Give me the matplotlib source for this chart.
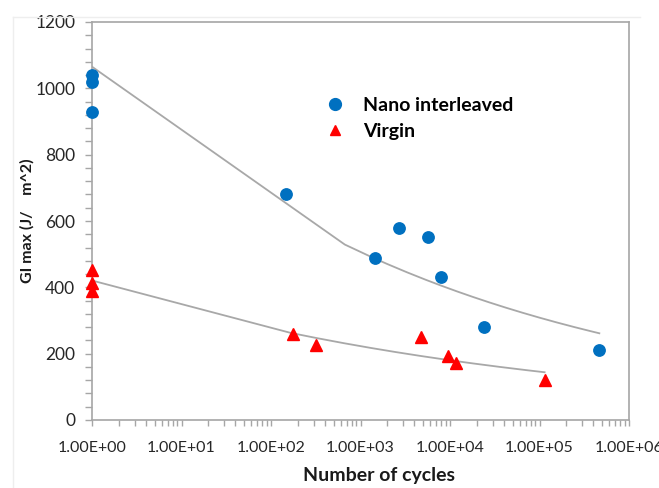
import numpy as np
import matplotlib
matplotlib.use("Agg")
import matplotlib.pyplot as plt
from matplotlib.ticker import FixedLocator, LogLocator, NullFormatter, FuncFormatter
from matplotlib.lines import Line2D

# ---- data ----
nano_cycles = [1, 1, 1, 147, 1470, 2700, 5700, 8000, 24000, 466000]
nano_gi = [1040, 1018, 928, 680, 488, 580, 553, 431, 280, 211]
virgin_cycles = [1, 1, 1, 175, 316, 4800, 9500, 11700, 114000]
virgin_gi = [452, 412, 388, 260, 225, 250, 194, 173, 121]

series_labels = ["Nano interleaved", "Virgin"]
x_label = "Number of cycles"
y_label = "GI max (J/    m^2)"
y_ticks = [0, 200, 400, 600, 800, 1000, 1200]
x_ticks = [1e0, 1e1, 1e2, 1e3, 1e4, 1e5, 1e6]

BLUE = "#0070C0"
RED = "#FF0000"
TREND = "#A8A8A8"
FRAME = "#A6A6A6"
FONT = ["Lato", "DejaVu Sans"]

plt.rcParams["font.family"] = FONT

fig = plt.figure(figsize=(6.59, 4.88), dpi=100)
ax = fig.add_axes([92 / 659, 1 - 420 / 488, (629 - 92) / 659, (420 - 22) / 488])


def power_trend(x, y, n=700):
    x = np.asarray(x, float)
    y = np.asarray(y, float)
    b, lna = np.polyfit(np.log(x), np.log(y), 1)
    xs = np.linspace(x.min(), x.max(), n)
    return xs, np.exp(lna) * xs ** b


tx, ty = power_trend(nano_cycles, nano_gi)
ax.plot(tx, ty, color=TREND, lw=1.3, zorder=2)
tx, ty = power_trend(virgin_cycles, virgin_gi)
ax.plot(tx, ty, color=TREND, lw=1.3, zorder=2)

ax.plot(nano_cycles, nano_gi, linestyle="none", marker="o", ms=8.2,
        color=BLUE, mec=BLUE, zorder=3, clip_on=False)
ax.plot(virgin_cycles, virgin_gi, linestyle="none", marker="^", ms=8.8,
        color=RED, mec=RED, zorder=3, clip_on=False)

ax.set_xscale("log")
ax.set_xlim(1, 1e6)
ax.set_ylim(0, 1200)

ax.xaxis.set_major_locator(FixedLocator(x_ticks))
ax.xaxis.set_major_formatter(FuncFormatter(lambda v, p: "%.2fE+%02d" % (1.0, round(np.log10(v)))))
ax.xaxis.set_minor_locator(LogLocator(base=10, subs=np.arange(2, 10), numticks=20))
ax.xaxis.set_minor_formatter(NullFormatter())
ax.yaxis.set_major_locator(FixedLocator(y_ticks))
ax.yaxis.set_minor_locator(FixedLocator(np.arange(0, 1201, 40)))

ax.tick_params(axis="both", which="both", color=FRAME, direction="out")
ax.tick_params(axis="y", which="major", length=5, width=1, labelsize=12.5, pad=7, labelcolor="#262626")
ax.tick_params(axis="y", which="minor", length=5, width=1)
ax.tick_params(axis="x", which="major", length=4, width=1, labelsize=11.5, pad=11, labelcolor="#262626")
ax.tick_params(axis="x", which="minor", length=4, width=1)

for s in ax.spines.values():
    s.set_color(FRAME)
    s.set_linewidth(1.2)

ax.set_xlabel(x_label, fontsize=14, fontweight="bold", color="#1a1a1a")
ax.xaxis.set_label_coords((379 - 92) / (629 - 92), -(476 - 420) / (420 - 22), transform=ax.transAxes)
ax.xaxis.label.set_verticalalignment("center")
ax.set_ylabel(y_label, fontsize=11.5, fontweight="bold", color="#1a1a1a")
ax.yaxis.set_label_coords(-(92 - 27) / (629 - 92), 0.5)
ax.yaxis.label.set_verticalalignment("center")

handles = [
    Line2D([], [], linestyle="none", marker="o", ms=8.5, color=BLUE, mec=BLUE),
    Line2D([], [], linestyle="none", marker="^", ms=7, color=RED, mec=RED),
]
leg = ax.legend(handles, series_labels, loc="upper left",
                bbox_to_anchor=((325 - 92) / (629 - 92), 1 - (97 - 22) / (420 - 22)),
                frameon=False, handlelength=1.0, handletextpad=0.95, labelspacing=0.45,
                borderaxespad=0, borderpad=0, prop={"family": FONT, "weight": "bold", "size": 14})

# faint chart-area border
fig.add_artist(Line2D([13 / 659, 13 / 659], [0, 1 - 17 / 488], transform=fig.transFigure, color="#EEEEEE", lw=1))
fig.add_artist(Line2D([13 / 659, 640 / 659], [1 - 17 / 488, 1 - 17 / 488], transform=fig.transFigure, color="#EEEEEE", lw=1))

fig.savefig("out.png", dpi=100)
